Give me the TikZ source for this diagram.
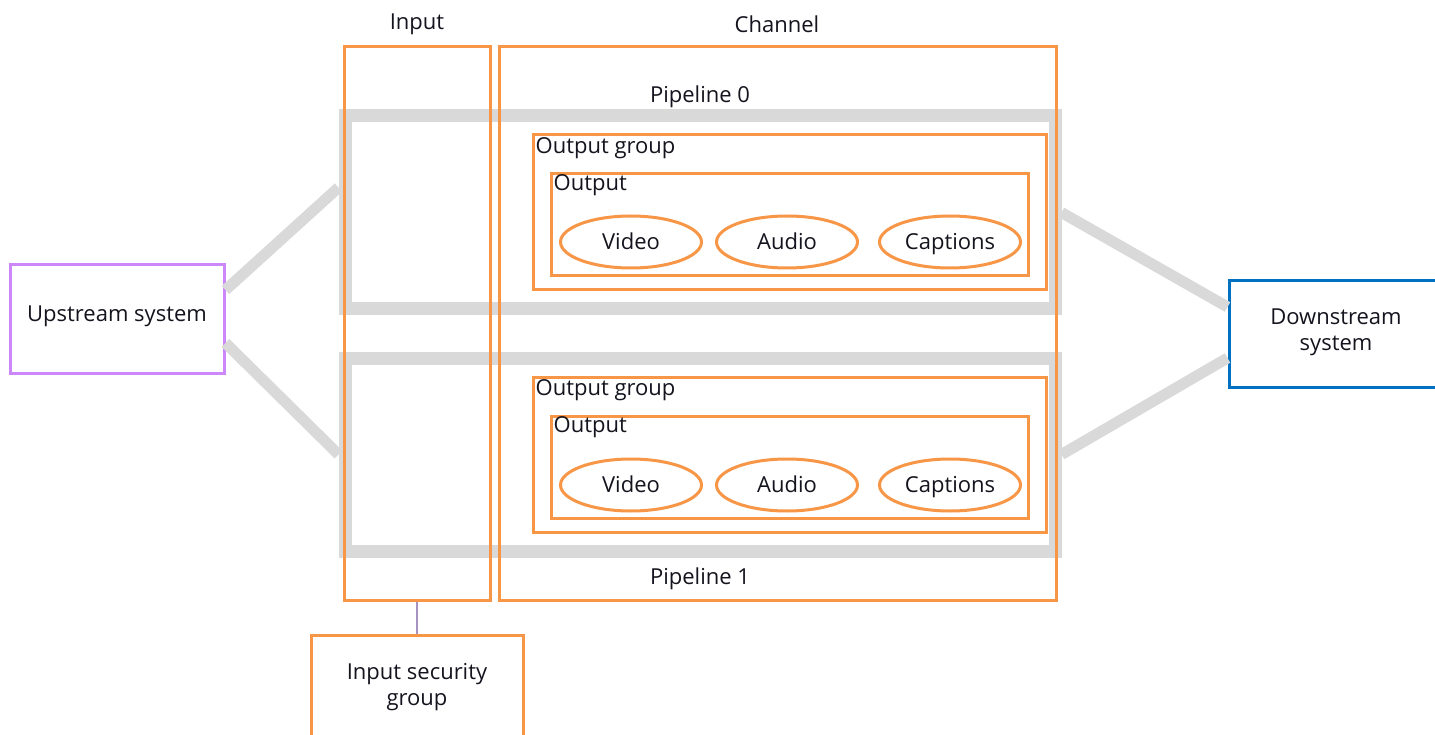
\documentclass[tikz,border=0pt]{standalone}
\usepackage{fontspec}
\setmainfont{Open Sans}
\usetikzlibrary{shapes.geometric,calc}
\definecolor{org}{RGB}{247,150,70}
\definecolor{pipegray}{RGB}{217,217,217}
\definecolor{upc}{RGB}{204,136,250}
\definecolor{downc}{RGB}{0,112,192}
\definecolor{linkc}{RGB}{168,146,196}
\definecolor{txt}{RGB}{20,20,30}
\newcommand{\lowr}[1]{\raisebox{-4pt}{#1}}
\tikzset{
  obox/.style={draw=org, line width=3pt, inner sep=0pt},
  pipe/.style={draw=pipegray, line width=13pt, inner sep=0pt},
  glink/.style={draw=pipegray, line width=11pt},
  comp/.style={ellipse, draw=org, line width=3pt, inner sep=0pt, minimum width=141pt, minimum height=52pt, text height=0.76em, text depth=0pt},
  lbl/.style={text=txt, inner sep=0pt},
}
\begin{document}
\begin{tikzpicture}[x=1pt,y=-1pt, font=\fontsize{22}{26}\selectfont, text=txt]
\useasboundingbox (0,0) rectangle (1435,735);
\clip (0,0) rectangle (1435,735);
% pipelines (gray) first
\node[pipe, minimum width=710pt, minimum height=193pt] (p0) at (700,212.5) {};
\node[pipe, minimum width=710pt, minimum height=193pt] (p1) at (700,454.5) {};
% upstream / downstream
\node[draw=upc, line width=3pt, minimum width=214pt, minimum height=108pt] (up) at (117,319) {};
\node[lbl] (upt) at (117,316) {Upstream system};
\node[draw=downc, line width=3pt, minimum width=216pt, minimum height=106pt, inner sep=0pt] (down) at (1337,334) {};
\node[lbl, align=center] (downt) at (1336,332) {Downstream\\system};
% gray links
\draw[glink] ([yshift=29pt]up.east) -- ([yshift=25pt]p0.west);
\draw[glink] ([yshift=-24pt]up.east) -- ([yshift=0pt]p1.west);
\draw[glink] (p0.east) -- ([yshift=27pt]down.west);
\draw[glink] (p1.east) -- ([yshift=-24pt]down.west);
% input and channel
\node[obox, minimum width=146pt, minimum height=553pt] (input) at (417,323.5) {};
\node[obox, minimum width=557pt, minimum height=553pt] (channel) at (777.5,323.5) {};
\node[lbl] (inputl) at (417,24) {Input};
\node[lbl] (channell) at (777,24) {Channel};
\node[lbl] (p0l) at (700,97) {Pipeline 0};
\node[lbl] (p1l) at (700,579) {Pipeline 1};
% output groups
\foreach \n/\gy/\oy/\ey in {a/212.5/225/242, b/454.5/467/485} {
  \node[obox, fill=white, minimum width=513pt, minimum height=155pt] (og\n) at (789.5,\gy) {};
  \node[lbl, anchor=north west] (ogl\n) at ([xshift=4pt,yshift=-4pt]og\n.north west) {Output group};
  \node[obox, minimum width=477pt, minimum height=102pt] (o\n) at (789.5,\oy) {};
  \node[lbl, anchor=north west] (ol\n) at ([xshift=4pt,yshift=-2pt]o\n.north west) {Output};
  \node[comp] (v\n) at (631,\ey) {\lowr{Video}};
  \node[comp] (a\n) at (787,\ey) {\lowr{Audio}};
  \node[comp] (c\n) at (950,\ey) {\lowr{Captions}};
}
% input security group
\node[obox, minimum width=212pt, minimum height=110pt] (isg) at (417,690) {};
\node[lbl, align=center] (isgl) at (417,687) {Input security\\group};
\draw[linkc, line width=2pt] (input.south) -- (isg.north);
\end{tikzpicture}
\end{document}
